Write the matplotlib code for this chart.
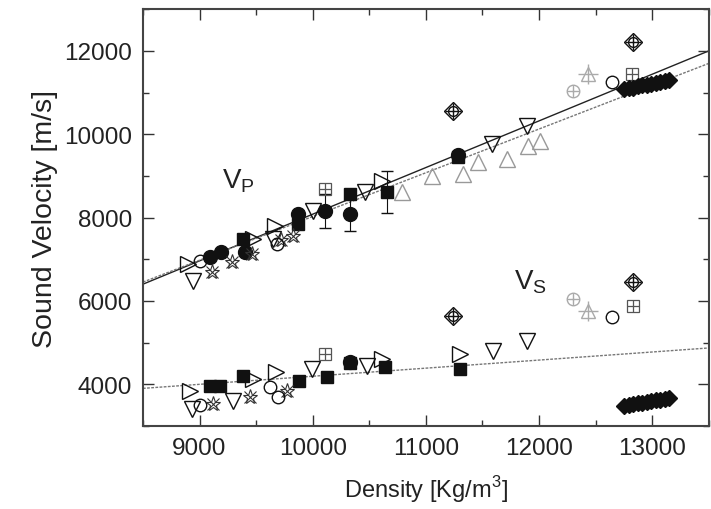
import matplotlib
matplotlib.use("Agg")
import matplotlib.pyplot as plt
from matplotlib.ticker import MultipleLocator

plt.rcParams["font.family"] = ["Liberation Sans", "DejaVu Sans"]

# ---- data (density kg/m3, velocity m/s) ----
sq_vp_x = [9385, 9870, 10330, 11280]
sq_vp_y = [7485, 7845, 8560, 9450]
sq_err_x = [10655]
sq_err_y = [8610]
sq_err_e = [500]
sq_vs_x = [9090, 9180, 9385, 9880, 10125, 10330, 10640, 11300]
sq_vs_y = [3960, 3960, 4200, 4070, 4175, 4500, 4415, 4370]

ci_vp_x = [9090, 9190, 9400, 9870, 11280]
ci_vp_y = [7050, 7170, 7170, 8085, 9500]
ci_err_x = [10110, 10330]
ci_err_y = [8155, 8085]
ci_err_e = [400, 400]
ci_vs_x = [10330]
ci_vs_y = [4535]

rt_x = [8900, 9470, 9665, 10610, 8915, 9470, 9680, 10610, 11300]
rt_y = [6885, 7485, 7800, 8875, 3840, 4125, 4295, 4605, 4730]

dt_x = [8940, 9650, 10000, 10460, 11580, 11890, 8930, 9295, 9990, 10480, 11590, 11890]
dt_y = [6475, 7485, 8155, 8610, 9760, 10190, 3410, 3600, 4370, 4440, 4800, 5040]

ast_x = [9110, 9285, 9460, 9720, 9825, 9120, 9445, 9770]
ast_y = [6690, 6930, 7125, 7450, 7555, 3530, 3700, 3840]

oc_x = [9000, 9685, 12640, 9000, 9620, 9690, 12640]
oc_y = [6955, 7365, 11250, 3500, 3935, 3700, 5610]

ut_x = [10790, 11050, 11330, 11460, 11720, 11900, 12010]
ut_y = [8610, 9000, 9040, 9330, 9400, 9715, 9835]

sqp_x = [10110, 12820, 10110, 12830]
sqp_y = [8680, 11440, 4730, 5880]

cp_x = [11240, 12830, 11240, 12830]
cp_y = [10550, 12210, 5640, 6450]

gcp_x = [12300, 12300]
gcp_y = [11030, 6045]

gtp_x = [12430, 12430]
gtp_y = [11440, 5760]

dia_vp_x = [12750, 12790, 12830, 12870, 12910, 12950, 12990, 13030, 13070, 13110, 13150]
dia_vp_y = [11080, 11110, 11120, 11150, 11170, 11190, 11210, 11230, 11250, 11270, 11290]
dia_vs_x = [12750, 12790, 12830, 12870, 12910, 12950, 12990, 13030, 13070, 13110, 13150]
dia_vs_y = [3480, 3500, 3520, 3540, 3560, 3575, 3590, 3610, 3630, 3650, 3680]

# fitted lines (end points)
fit_x = [8500, 13500]
fit_vp_solid = [6400, 12000]
fit_vp_dot = [6450, 11700]
fit_vs_dot = [3900, 4870]


fig = plt.figure(figsize=(7.11, 5.10), dpi=100)
ax = fig.add_axes([0.201, 0.163, 0.796, 0.817])

ax.plot(fit_x, fit_vp_solid, color="#222222", lw=1.0, zorder=1)
ax.plot(fit_x, fit_vp_dot, color="#777777", lw=1.0, ls=(0, (2, 1)), zorder=1)
ax.plot(fit_x, fit_vs_dot, color="#777777", lw=1.0, ls=(0, (2, 1)), zorder=1)

k = "#111111"
g = "#999999"
ax.plot(sq_vp_x + sq_vs_x, sq_vp_y + sq_vs_y, "s", color=k, ms=9, ls="none")
ax.errorbar(sq_err_x, sq_err_y, yerr=sq_err_e, fmt="s", color=k, ms=9, capsize=4, elinewidth=0.8)
ax.plot(ci_vp_x + ci_vs_x, ci_vp_y + ci_vs_y, "o", color=k, ms=10, ls="none")
ax.errorbar(ci_err_x, ci_err_y, yerr=ci_err_e, fmt="o", color=k, ms=10, capsize=4, elinewidth=0.8)
ax.plot(rt_x, rt_y, ">", mfc="none", mec=k, ms=11, mew=1.0, ls="none")
ax.plot(dt_x, dt_y, "v", mfc="none", mec=k, ms=11, mew=1.0, ls="none")
ax.plot(ast_x, ast_y, "*", mfc="none", mec="#333333", ms=11, mew=0.8, ls="none")
ax.plot(ast_x, ast_y, "x", color="#333333", ms=8, mew=0.8, ls="none")
ax.plot(oc_x, oc_y, "o", mfc="none", mec=k, ms=9, mew=1.0, ls="none")
ax.plot(ut_x, ut_y, "^", mfc="none", mec=g, ms=12, mew=1.0, ls="none")
ax.plot(sqp_x, sqp_y, "s", mfc="none", mec="#555555", ms=9, mew=0.9, ls="none")
ax.plot(sqp_x, sqp_y, "+", color="#555555", ms=9, mew=0.9, ls="none")
ax.plot(cp_x, cp_y, "D", mfc="none", mec=k, ms=9, mew=1.0, ls="none")
ax.plot(cp_x, cp_y, "o", mfc="none", mec=k, ms=7, mew=1.0, ls="none")
ax.plot(cp_x, cp_y, "+", color=k, ms=12, mew=1.0, ls="none")
ax.plot(gcp_x, gcp_y, "o", mfc="none", mec="#aaaaaa", ms=9, mew=1.0, ls="none")
ax.plot(gcp_x, gcp_y, "+", color="#aaaaaa", ms=9, mew=1.0, ls="none")
ax.plot(gtp_x, gtp_y, "^", mfc="none", mec="#aaaaaa", ms=10, mew=1.0, ls="none")
ax.plot(gtp_x, gtp_y, "+", color="#aaaaaa", ms=14, mew=1.0, ls="none")
ax.plot(dia_vp_x + dia_vs_x, dia_vp_y + dia_vs_y, "D", color=k, ms=8.5, ls="none")

ax.text(9200, 8900, "V$_\\mathregular{P}$", fontsize=20, va="center", color="#222222")
ax.text(11780, 6480, "V$_\\mathregular{S}$", fontsize=20, va="center", color="#222222")

ax.set_xlim(8500, 13500)
ax.set_ylim(3000, 13000)
ax.xaxis.set_major_locator(MultipleLocator(1000))
ax.xaxis.set_minor_locator(MultipleLocator(500))
ax.yaxis.set_major_locator(MultipleLocator(2000))
ax.yaxis.set_minor_locator(MultipleLocator(1000))
ax.tick_params(which="both", direction="in", top=True, right=True, color="#333333",
               labelsize=17.5, labelcolor="#222222", width=1.0)
ax.tick_params(which="major", length=8, pad=8)
ax.tick_params(which="minor", length=4)
for s in ax.spines.values():
    s.set_linewidth(1.5)
    s.set_color("#444444")

ax.set_xlabel("Density [Kg/m$^\\mathregular{3}$]", fontsize=17, color="#222222", labelpad=10)
ax.set_ylabel("Sound Velocity [m/s]", fontsize=20.5, color="#222222", labelpad=4)

fig.savefig("out.png", dpi=100)
